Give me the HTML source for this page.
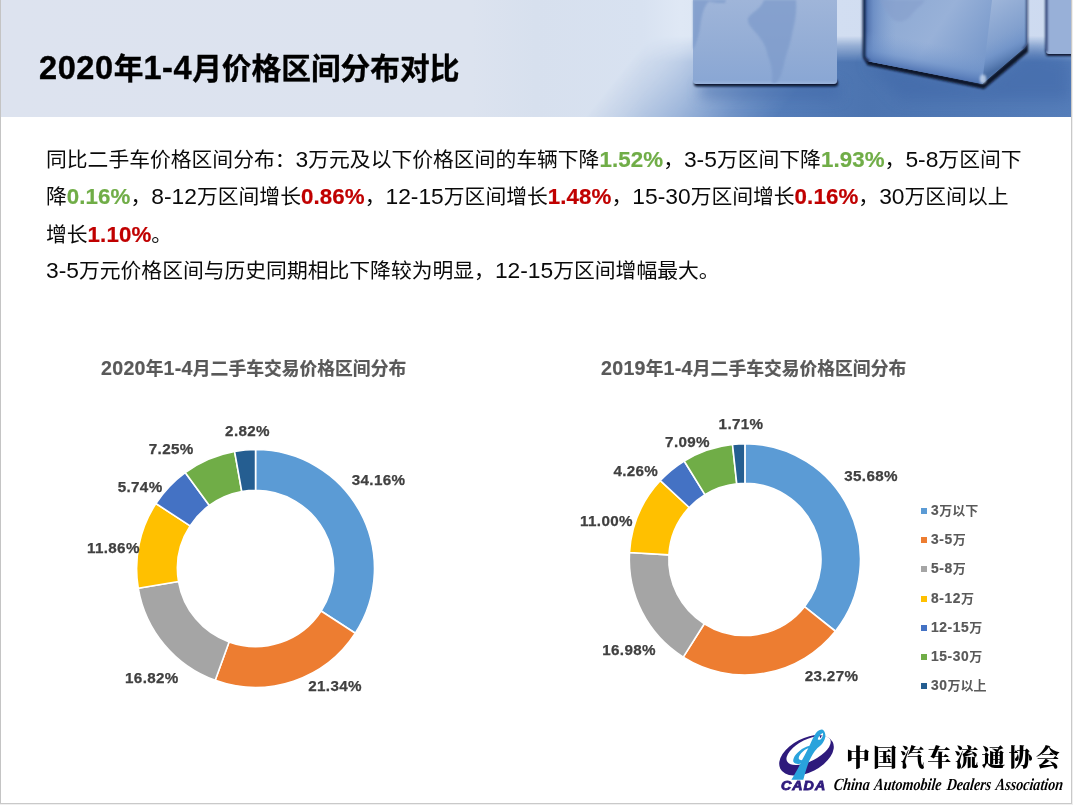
<!DOCTYPE html>
<html lang="zh-CN">
<head>
<meta charset="utf-8">
<title>2020年1-4月价格区间分布对比</title>
<style>
html,body{margin:0;padding:0;}
body{width:1073px;height:805px;overflow:hidden;background:#efefef;position:relative;
  font-family:"Liberation Sans","Noto Sans CJK SC",sans-serif;}
#slide{position:absolute;left:0;top:0;width:1071px;height:803px;background:#fff;overflow:hidden;}
#frameL{position:absolute;left:0;top:0;width:1px;height:804px;background:#c4c4c4;}
#frameR{position:absolute;left:1071px;top:0;width:1px;height:804px;background:#c9c9c9;}
#frameB{position:absolute;left:0;top:803px;width:1072px;height:1px;background:#c9c9c9;}
#header{position:absolute;left:0;top:0;width:1071px;height:117px;overflow:hidden;background:#dde3ef;}
#title{position:absolute;left:39px;top:46px;font-size:29.7px;-webkit-text-stroke:0.35px #000;line-height:44px;font-weight:bold;color:#000;white-space:nowrap;}
#title b{font-size:32.5px;letter-spacing:0.6px;-webkit-text-stroke:0.4px #000;}
.p{position:absolute;left:46px;font-size:20.8px;line-height:37px;height:37px;color:#0a0a0a;white-space:nowrap;}
.p b{font-weight:normal;font-size:22.8px;letter-spacing:0;}
.p .g{color:#70ad47;font-weight:bold;font-size:22.3px;letter-spacing:0.1px;-webkit-text-stroke:0.2px #70ad47;}
.p .r{color:#c00000;font-weight:bold;font-size:22.3px;letter-spacing:0.1px;-webkit-text-stroke:0.2px #c00000;}
.ct{position:absolute;font-size:17.8px;font-weight:bold;color:#595959;-webkit-text-stroke:0.2px #595959;white-space:nowrap;line-height:24px;}
.ct b{font-size:19.6px;letter-spacing:0.3px;-webkit-text-stroke:0.2px #595959;}
.dl{position:absolute;font-size:15.2px;font-weight:bold;color:#404040;white-space:nowrap;line-height:18px;letter-spacing:0.35px;transform:translate(-50%,-50%);-webkit-text-stroke:0.25px #404040;}
.lg{position:absolute;left:931px;font-size:13px;font-weight:bold;color:#595959;white-space:nowrap;line-height:18px;height:18px;}
.lg b{font-size:13.8px;letter-spacing:0.6px;-webkit-text-stroke:0.2px #595959;}
.lg i{position:absolute;left:-10px;top:6px;width:6px;height:6px;}
</style>
</head>
<body>
<div id="slide">
  <div id="header">
    <svg width="1071" height="117" viewBox="0 0 1071 117" style="position:absolute;left:0;top:0">
      <defs>
        <linearGradient id="hbg" x1="0" y1="0" x2="1071" y2="0" gradientUnits="userSpaceOnUse">
          <stop offset="0" stop-color="#dde3ef"/><stop offset=".44" stop-color="#dce3ef"/>
          <stop offset=".50" stop-color="#d7e0ee"/><stop offset=".60" stop-color="#d8e2f1"/>
          <stop offset=".635" stop-color="#dfe8f5"/><stop offset=".78" stop-color="#d2def1"/><stop offset="1" stop-color="#cddaf0"/>
        </linearGradient>
        <linearGradient id="flV" x1="0" y1="36" x2="0" y2="117" gradientUnits="userSpaceOnUse">
          <stop offset="0" stop-color="#000" stop-opacity="1"/><stop offset=".12" stop-color="#000" stop-opacity=".55"/>
          <stop offset=".32" stop-color="#000" stop-opacity="0"/><stop offset="1" stop-color="#000" stop-opacity="0"/>
        </linearGradient>
        <linearGradient id="flH" x1="585" y1="117" x2="701" y2="210" gradientUnits="userSpaceOnUse">
          <stop offset="0" stop-color="#000"/><stop offset=".2" stop-color="#2e2e2e"/><stop offset=".5" stop-color="#858585"/><stop offset=".75" stop-color="#cfcfcf"/><stop offset="1" stop-color="#fff"/>
        </linearGradient>
        <linearGradient id="flC" x1="700" y1="0" x2="1071" y2="0" gradientUnits="userSpaceOnUse">
          <stop offset="0" stop-color="#5c84c0"/><stop offset=".45" stop-color="#4c74b0"/><stop offset="1" stop-color="#557db9"/>
        </linearGradient>
        <mask id="flM"><rect x="0" y="0" width="1071" height="117" fill="url(#flH)"/><rect x="0" y="0" width="1071" height="36" fill="#000"/><rect x="0" y="36" width="1071" height="81" fill="url(#flV)"/></mask>
        <linearGradient id="c1" x1="0" y1="0" x2="0" y2="86" gradientUnits="userSpaceOnUse">
          <stop offset="0" stop-color="#9fb5d9"/><stop offset=".6" stop-color="#92acd5"/><stop offset=".93" stop-color="#8aa7d4"/><stop offset="1" stop-color="#a4bce0"/>
        </linearGradient>
        <linearGradient id="c2a" x1="870" y1="0" x2="990" y2="80" gradientUnits="userSpaceOnUse">
          <stop offset="0" stop-color="#8aa7d2"/><stop offset=".5" stop-color="#98b1d8"/><stop offset="1" stop-color="#6f92c7"/>
        </linearGradient>
        <linearGradient id="c2b" x1="990" y1="0" x2="1027" y2="60" gradientUnits="userSpaceOnUse">
          <stop offset="0" stop-color="#9fb6da"/><stop offset="1" stop-color="#6a8ec4"/>
        </linearGradient>
        <linearGradient id="c2L" x1="864" y1="0" x2="896" y2="0" gradientUnits="userSpaceOnUse">
          <stop offset="0" stop-color="#3c5c9a" stop-opacity=".95"/><stop offset=".3" stop-color="#5a7fbd" stop-opacity=".6"/><stop offset="1" stop-color="#7d9fd2" stop-opacity="0"/>
        </linearGradient>
        <linearGradient id="c2B" x1="925" y1="73" x2="931" y2="43" gradientUnits="userSpaceOnUse">
          <stop offset="0" stop-color="#4a6fb0" stop-opacity=".9"/><stop offset=".4" stop-color="#6a8fc8" stop-opacity=".5"/><stop offset="1" stop-color="#7d9fd2" stop-opacity="0"/>
        </linearGradient>
        <linearGradient id="c2R" x1="1003" y1="66" x2="990" y2="40" gradientUnits="userSpaceOnUse">
          <stop offset="0" stop-color="#45699f" stop-opacity=".9"/><stop offset=".5" stop-color="#6a8fc8" stop-opacity=".45"/><stop offset="1" stop-color="#7d9fd2" stop-opacity="0"/>
        </linearGradient>
        <filter id="b1" filterUnits="userSpaceOnUse" x="0" y="-10" width="1071" height="140"><feGaussianBlur stdDeviation="1"/></filter>
        <filter id="b2" x="-20%" y="-50%" width="140%" height="200%"><feGaussianBlur stdDeviation="2.5"/></filter>
        <filter id="b6" x="-20%" y="-50%" width="140%" height="200%"><feGaussianBlur stdDeviation="7"/></filter>
      </defs>
      <rect x="0" y="0" width="1071" height="117" fill="url(#hbg)"/>
      <!-- floor -->
      <g mask="url(#flM)"><rect x="560" y="0" width="520" height="120" fill="url(#flC)"/></g>
      <!-- floor shadows -->
      <g filter="url(#b6)" opacity=".55">
        <rect x="700" y="84" width="140" height="14" fill="#3f67a8"/>
        <polygon points="866,62 982,86 1030,50 1071,60 1071,100 900,100" fill="#3f67a8"/>
      </g>
      <!-- cube 1 -->
      <rect x="694" y="80" width="144" height="6.5" rx="3" fill="#0c1730" filter="url(#b1)"/>
      <rect x="693" y="-8" width="144" height="92" rx="3" fill="url(#c1)"/>
      <g fill="#7e9bcb" opacity=".75" filter="url(#b1)">
        <path d="M748,18 C752,12 760,10 764,0 L796,0 C797,12 795,22 792,34 C790,46 786,54 784,64 C782,72 780,80 776,83 L772,83 C773,72 771,64 768,56 C766,46 762,40 757,34 C752,28 747,24 748,18Z"/>
        <path d="M693,0 L726,0 L725,3 C718,3.5 712,2 709,1.5 C704,6 702,14 700.5,24 C699.5,34 697,42 693,50Z"/>
      </g>
      <!-- cube 2 -->
      <path d="M865,57 L982,83.5 L1024,48 L1028,43 L1028,52 L984,89 L867,65Z" fill="#0a142c" filter="url(#b1)"/>
      <path d="M864,-8 L994,-8 L983,84 L869,61.5 Q864,60 864,55Z" fill="url(#c2a)"/>
      <path d="M993,-8 L1027,-8 L1027,42 Q1027,46 1023,49 L982,84Z" fill="url(#c2b)"/>
      <path d="M864,-8 L993,-8 L982,84 L869,61.5 Q864,60 864,55Z" fill="url(#c2L)"/>
      <path d="M864,-8 L993,-8 L982,84 L869,61.5 Q864,60 864,55Z" fill="url(#c2B)"/>
      <path d="M993,-8 L1027,-8 L1027,42 Q1027,46 1023,49 L982,84Z" fill="url(#c2R)"/>
      <path d="M864,-8 L864,55 Q864,60 869,61.5" fill="none" stroke="#16254a" stroke-width="3" filter="url(#b1)"/>
      <path d="M1027,-8 L1027,42 Q1027,46 1023,49" fill="none" stroke="#22365f" stroke-width="1.6" filter="url(#b1)"/>
      <g fill="#869fcc" opacity=".6" filter="url(#b1)">
        <path d="M880,0 L925,0 C922,6 916,8 912,14 C908,20 900,24 894,20 C888,16 884,8 880,0Z"/>
      </g>
      <ellipse cx="983" cy="79" rx="3.2" ry="4.5" fill="#c9d9f0" opacity=".8" filter="url(#b1)"/>
      <!-- cube 3 -->
      <rect x="1046" y="50" width="30" height="6" rx="2" fill="#0c1730" filter="url(#b1)"/>
      <rect x="1046" y="-8" width="30" height="62" rx="3" fill="#98b0d8"/>
      <rect x="1045.2" y="-8" width="2.2" height="60" fill="#22376a" filter="url(#b1)"/>
    </svg>

  </div>
  <div id="title"><b>2020</b>年<b>1-4</b>月价格区间分布对比</div>

  <div class="p" style="top:140.5px">同比二手车价格区间分布：<b>3</b>万元及以下价格区间的车辆下降<span class="g">1.52%</span>，<b>3-5</b>万区间下降<span class="g">1.93%</span>，<b>5-8</b>万区间下</div>
  <div class="p" style="top:178.2px">降<span class="g">0.16%</span>，<b>8-12</b>万区间增长<span class="r">0.86%</span>，<b>12-15</b>万区间增长<span class="r">1.48%</span>，<b>15-30</b>万区间增长<span class="r">0.16%</span>，<b>30</b>万区间以上</div>
  <div class="p" style="top:215.6px">增长<span class="r">1.10%</span>。</div>
  <div class="p" style="top:252.4px"><b>3-5</b>万元价格区间与历史同期相比下降较为明显，<b>12-15</b>万区间增幅最大。</div>

  <div class="ct" style="left:101px;top:356px"><b>2020</b>年<b>1-4</b>月二手车交易价格区间分布</div>
  <div class="ct" style="left:601px;top:356px"><b>2019</b>年<b>1-4</b>月二手车交易价格区间分布</div>

  <svg id="charts" width="1071" height="803" style="position:absolute;left:0;top:0">
    <path d="M255.55,449.50A118.95,118.95 0 0 1 355.32,633.21L321.06,610.97A78.1,78.1 0 0 0 255.55,490.35Z" fill="#5b9bd5" stroke="#fff" stroke-width="1.6" stroke-linejoin="round"/>
    <path d="M355.32,633.21A118.95,118.95 0 0 1 215.22,680.35L229.07,641.92A78.1,78.1 0 0 0 321.06,610.97Z" fill="#ed7d31" stroke="#fff" stroke-width="1.6" stroke-linejoin="round"/>
    <path d="M215.22,680.35A118.95,118.95 0 0 1 138.27,588.33L178.55,581.50A78.1,78.1 0 0 0 229.07,641.92Z" fill="#a5a5a5" stroke="#fff" stroke-width="1.6" stroke-linejoin="round"/>
    <path d="M138.27,588.33A118.95,118.95 0 0 1 155.88,503.53L190.11,525.82A78.1,78.1 0 0 0 178.55,581.50Z" fill="#ffc000" stroke="#fff" stroke-width="1.6" stroke-linejoin="round"/>
    <path d="M155.88,503.53A118.95,118.95 0 0 1 185.20,472.53L209.36,505.47A78.1,78.1 0 0 0 190.11,525.82Z" fill="#4472c4" stroke="#fff" stroke-width="1.6" stroke-linejoin="round"/>
    <path d="M185.20,472.53A118.95,118.95 0 0 1 234.58,451.36L241.78,491.57A78.1,78.1 0 0 0 209.36,505.47Z" fill="#70ad47" stroke="#fff" stroke-width="1.6" stroke-linejoin="round"/>
    <path d="M234.58,451.36A118.95,118.95 0 0 1 255.55,449.50L255.55,490.35A78.1,78.1 0 0 0 241.78,491.57Z" fill="#255e91" stroke="#fff" stroke-width="1.6" stroke-linejoin="round"/>
    <path d="M744.90,443.75A115.6,115.6 0 0 1 835.42,631.25L804.49,606.68A76.1,76.1 0 0 0 744.90,483.25Z" fill="#5b9bd5" stroke="#fff" stroke-width="1.6" stroke-linejoin="round"/>
    <path d="M835.42,631.25A115.6,115.6 0 0 1 683.23,657.13L704.30,623.72A76.1,76.1 0 0 0 804.49,606.68Z" fill="#ed7d31" stroke="#fff" stroke-width="1.6" stroke-linejoin="round"/>
    <path d="M683.23,657.13A115.6,115.6 0 0 1 629.50,552.54L668.93,554.87A76.1,76.1 0 0 0 704.30,623.72Z" fill="#a5a5a5" stroke="#fff" stroke-width="1.6" stroke-linejoin="round"/>
    <path d="M629.50,552.54A115.6,115.6 0 0 1 660.33,480.54L689.23,507.47A76.1,76.1 0 0 0 668.93,554.87Z" fill="#ffc000" stroke="#fff" stroke-width="1.6" stroke-linejoin="round"/>
    <path d="M660.33,480.54A115.6,115.6 0 0 1 684.18,460.98L704.93,494.59A76.1,76.1 0 0 0 689.23,507.47Z" fill="#4472c4" stroke="#fff" stroke-width="1.6" stroke-linejoin="round"/>
    <path d="M684.18,460.98A115.6,115.6 0 0 1 732.50,444.42L736.74,483.69A76.1,76.1 0 0 0 704.93,494.59Z" fill="#70ad47" stroke="#fff" stroke-width="1.6" stroke-linejoin="round"/>
    <path d="M732.50,444.42A115.6,115.6 0 0 1 744.90,443.75L744.90,483.25A76.1,76.1 0 0 0 736.74,483.69Z" fill="#255e91" stroke="#fff" stroke-width="1.6" stroke-linejoin="round"/>
  </svg>
  <div class="dl" id="dl0" style="left:378.6px;top:480.3px">34.16%</div>
  <div class="dl" id="dl1" style="left:335.1px;top:685.6px">21.34%</div>
  <div class="dl" id="dl2" style="left:151.9px;top:677.5px">16.82%</div>
  <div class="dl" id="dl3" style="left:113.4px;top:547.5px">11.86%</div>
  <div class="dl" id="dl4" style="left:140.1px;top:486.5px">5.74%</div>
  <div class="dl" id="dl5" style="left:171.2px;top:449.4px">7.25%</div>
  <div class="dl" id="dl6" style="left:247.5px;top:430.6px">2.82%</div>
  <div class="dl" id="dl7" style="left:871.1px;top:475.9px">35.68%</div>
  <div class="dl" id="dl8" style="left:831.5px;top:675.6px">23.27%</div>
  <div class="dl" id="dl9" style="left:629.1px;top:649.5px">16.98%</div>
  <div class="dl" id="dl10" style="left:606.5px;top:521.4px">11.00%</div>
  <div class="dl" id="dl11" style="left:635.8px;top:470.6px">4.26%</div>
  <div class="dl" id="dl12" style="left:687.5px;top:442.2px">7.09%</div>
  <div class="dl" id="dl13" style="left:741.0px;top:423.6px">1.71%</div>
  <div class="lg" id="lg0" style="top:502.2px"><i style="background:#5b9bd5"></i><b>3</b>万以下</div>
  <div class="lg" id="lg1" style="top:531.3px"><i style="background:#ed7d31"></i><b>3-5</b>万</div>
  <div class="lg" id="lg2" style="top:560.3px"><i style="background:#a5a5a5"></i><b>5-8</b>万</div>
  <div class="lg" id="lg3" style="top:589.6px"><i style="background:#ffc000"></i><b>8-12</b>万</div>
  <div class="lg" id="lg4" style="top:618.8px"><i style="background:#4472c4"></i><b>12-15</b>万</div>
  <div class="lg" id="lg5" style="top:647.8px"><i style="background:#70ad47"></i><b>15-30</b>万</div>
  <div class="lg" id="lg6" style="top:676.8px"><i style="background:#255e91"></i><b>30</b>万以上</div>
  <svg id="logo" width="70" height="64" viewBox="775 726 70 64" style="position:absolute;left:775px;top:726px">
    <g transform="rotate(-27 806.5 755.3)">
      <ellipse cx="806.5" cy="755.3" rx="29.4" ry="17" fill="#2e1a7c"/>
      <ellipse cx="810.6" cy="751.8" rx="24.2" ry="10.9" fill="#fff"/>
    </g>
    <path d="M791.4,779.8 L803.3,779.8 C805,773 806.5,768.5 807.8,764.7 C809.5,760 811.5,756.5 813.7,752.8 C817,747.5 821,745.5 822.7,742.9 C824.5,740 826,737 825.2,733.9 C824.6,731 823.4,729.4 821.7,729.4 C819,729.4 816.5,731.8 814.7,734.9 C812.5,738.5 811.2,741.8 809.8,744.9 C806.5,752 803,758 799.8,764.7 C797.5,769.5 794.5,774.5 791.4,779.8Z M817.7,739.2 C818.5,736.5 820.5,733.8 822.7,732.9 C823.6,734 822.8,736.5 821.6,738.2 C820.5,739.8 818.8,740.3 817.7,739.2Z" fill="#29a3dc" fill-rule="evenodd"/>
    <path d="M809.8,745.8 C806,746.5 802.5,748.5 799.8,750.8 C797,753.2 794.7,755.6 793.9,757.8 C793.2,759.5 793,761 793.4,761.7 C794.5,763.8 797.5,764.4 799.8,763.7 C801.3,763.2 802.3,761.5 802.8,759.8 C801.5,760.6 799.8,760.3 798.8,758.8 C798.3,756.5 800.5,753.7 803,751.5 C805.3,749.5 807.5,748.2 809.8,747.8Z" fill="#29a3dc"/>
    <path d="M819.6,736.6 C820.4,735.4 821.2,735 821.5,735.6 C821.6,736.6 821.1,737.6 820.3,738.3Z" fill="#2e1a7c"/>
  </svg>
  <div id="cada" style="position:absolute;left:781px;top:779px;font:italic bold 12.6px/14px 'Liberation Sans',sans-serif;color:#2e1a7c;letter-spacing:0.9px;white-space:nowrap;-webkit-text-stroke:0.8px #2e1a7c;transform-origin:0 50%;transform:scaleX(1.13);">CADA</div>
  <div id="cn" style="position:absolute;left:846px;top:742px;font:900 24px/32px 'Liberation Serif','Noto Serif CJK SC',serif;color:#000;letter-spacing:3.1px;white-space:nowrap;">中国汽车流通协会</div>
  <div id="en" style="position:absolute;left:832.5px;top:772.5px;font:italic bold 17px/24px 'Liberation Serif',serif;color:#000;letter-spacing:0;word-spacing:2px;white-space:nowrap;transform-origin:0 80%;transform:scaleX(0.827) skewX(-8deg);">China Automobile Dealers Association</div>

</div>
<div id="frameL"></div><div id="frameR"></div><div id="frameB"></div>
</body>
</html>
